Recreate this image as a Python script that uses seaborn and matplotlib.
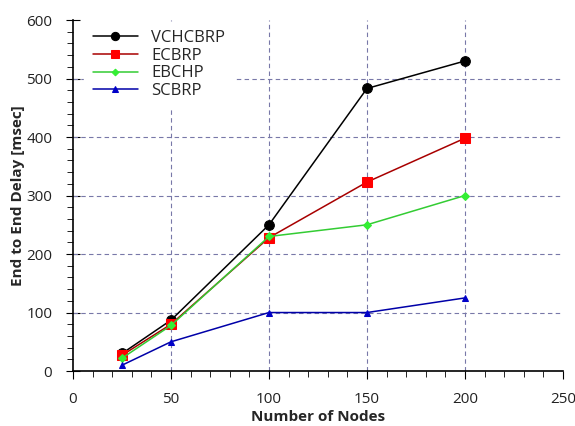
import matplotlib
matplotlib.use("Agg")
import matplotlib.pyplot as plt
import seaborn as sns
import pandas as pd
from matplotlib.ticker import MultipleLocator

nodes = [25, 50, 100, 150, 200]
vchcbrp = [30, 87, 250, 483, 530]
ecbrp = [27, 80, 228, 323, 398]
ebchp = [22, 78, 230, 250, 300]
scbrp = [10, 50, 100, 100, 125]

series = ["VCHCBRP", "ECBRP", "EBCHP", "SCBRP"]
line_colors = ["#000000", "#a80000", "#33cc33", "#0000a8"]
marker_colors = ["#000000", "#ff0000", "#33ee33", "#0000c8"]
markers = ["o", "s", "D", "^"]
sizes = [7, 7, 4, 5]

df = pd.DataFrame({"Nodes": nodes * 4,
                   "Delay": vchcbrp + ecbrp + ebchp + scbrp,
                   "Protocol": sum([[s] * len(nodes) for s in series], [])})

sns.set_style("ticks")
plt.rcParams["font.family"] = ["Open Sans", "DejaVu Sans"]

fig = plt.figure(figsize=(5.75, 4.26), dpi=100)
ax = fig.add_axes([0.127, 0.129, 0.852, 0.824])

for name, lc, mc, m, ms in zip(series, line_colors, marker_colors, markers, sizes):
    sub = df[df["Protocol"] == name]
    sns.lineplot(data=sub, x="Nodes", y="Delay", ax=ax, color=lc, marker=m,
                 markersize=ms, markerfacecolor=mc, markeredgecolor=mc,
                 linewidth=1.1, label=name, zorder=3)

ax.set_xlim(0, 250)
ax.set_ylim(0, 600)
ax.xaxis.set_major_locator(MultipleLocator(50))
ax.xaxis.set_minor_locator(MultipleLocator(10))
ax.yaxis.set_major_locator(MultipleLocator(100))
ax.yaxis.set_minor_locator(MultipleLocator(20))
ax.tick_params(which="both", direction="out", labelsize=11, color="black",
               labelcolor="#222222")
ax.tick_params(axis="x", which="major", length=6, pad=9)
ax.tick_params(axis="y", which="major", direction="inout", length=10, pad=10)
ax.tick_params(which="minor", length=4)

# dashed grid on the inner major ticks only (none on the top/right limits)
grid_kw = dict(linestyle=(0, (4, 3)), color="#7878a8", linewidth=0.8, zorder=1)
y0, y1 = ax.get_ylim()
x0, x1 = ax.get_xlim()
for yv in ax.get_yticks():
    if y0 < yv < y1:
        ax.axhline(yv, **grid_kw)
for xv in ax.get_xticks():
    if x0 < xv < x1:
        ax.axvline(xv, **grid_kw)

for s in ["top", "right"]:
    ax.spines[s].set_visible(False)
for s in ["left", "bottom"]:
    ax.spines[s].set_color("black")
    ax.spines[s].set_linewidth(1.2)

ax.set_xlabel("Number of Nodes", fontweight="bold", fontsize=11, labelpad=2)
ax.set_ylabel("End to End Delay [msec]", fontweight="bold", fontsize=11, labelpad=1)

leg = ax.legend(loc="upper left", bbox_to_anchor=(0.02, 1.0), frameon=True,
                fontsize=12, handlelength=2.7, labelspacing=0.1,
                borderpad=0.5, borderaxespad=0.1, markerscale=0.85)
leg.set_zorder(5)
leg.get_frame().set_edgecolor("white")
leg.get_frame().set_facecolor("white")
leg.get_frame().set_alpha(1)

fig.savefig("out.png", dpi=100)
